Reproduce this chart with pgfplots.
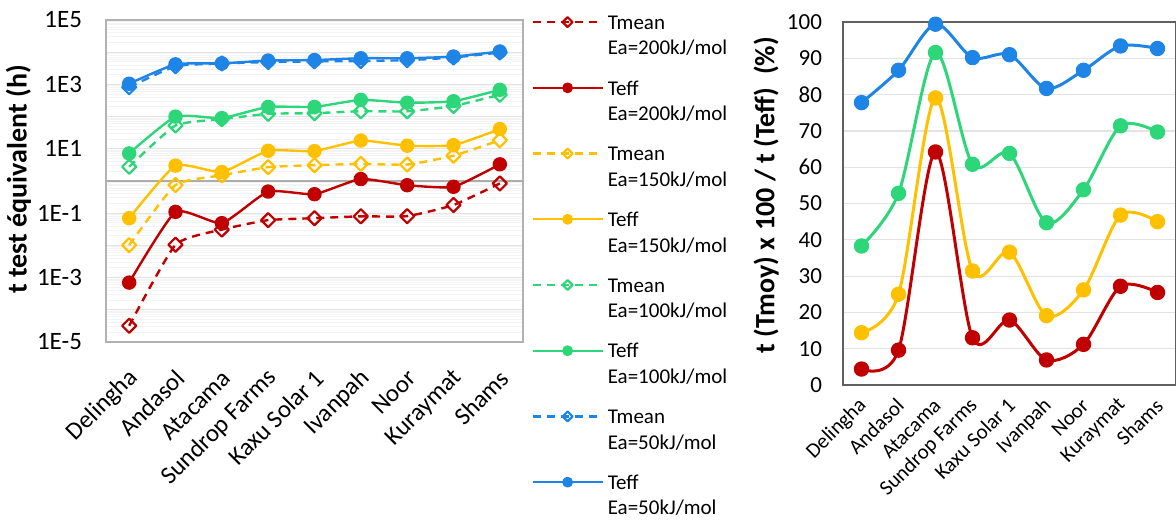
\documentclass[border=0pt]{standalone}
\usepackage{fontspec}
\setmainfont{Carlito}
\usepackage{pgfplots}
\pgfplotsset{compat=1.18}
\definecolor{cred}{RGB}{192,0,0}
\definecolor{cyel}{RGB}{255,192,0}
\definecolor{cgrn}{RGB}{46,214,122}
\definecolor{cblu}{RGB}{30,132,229}
\newcommand{\lt}[2]{\begin{tabular}[t]{@{}l@{}}#1\\Ea=#2kJ/mol\end{tabular}}
\begin{document}
\begin{tikzpicture}
\useasboundingbox (0pt,0pt) rectangle (588pt,260.5pt);
\begin{axis}[
  at={(53pt,89.5pt)}, anchor=south west, scale only axis,
  width=208.5pt, height=161pt,
  ymode=log, ymin=1e-5, ymax=1e5, xmin=-0.5, xmax=8.5,
  xtick={0,...,8},
  xticklabels={Delingha,Andasol,Atacama,Sundrop Farms,Kaxu Solar 1,Ivanpah,Noor,Kuraymat,Shams},
  xticklabel style={xshift=2.5pt, yshift=-16pt, rotate=45, anchor=east, inner sep=0pt, font=\fontsize{12.4}{14}\selectfont},
  ytick={1e-5,1e-4,1e-3,1e-2,1e-1,1,10,100,1000,10000,100000},
  yticklabels={1E-5,,1E-3,,1E-1,,1E1,,1E3,,1E5},
  yticklabel style={font=\fontsize{12.5}{14}\selectfont, xshift=-8.5pt},
  minor ytick={2e-5,3e-5,4e-5,5e-5,6e-5,7e-5,8e-5,9e-5,
    2e-4,3e-4,4e-4,5e-4,6e-4,7e-4,8e-4,9e-4,
    2e-3,3e-3,4e-3,5e-3,6e-3,7e-3,8e-3,9e-3,
    2e-2,3e-2,4e-2,5e-2,6e-2,7e-2,8e-2,9e-2,
    2e-1,3e-1,4e-1,5e-1,6e-1,7e-1,8e-1,9e-1,
    2,3,4,5,6,7,8,9,20,30,40,50,60,70,80,90,
    200,300,400,500,600,700,800,900,
    2000,3000,4000,5000,6000,7000,8000,9000,
    20000,30000,40000,50000,60000,70000,80000,90000},
  ymajorgrids, yminorgrids,
  major grid style={gray!22, line width=0.6pt},
  minor grid style={gray!9, line width=0.5pt},
  extra y ticks={1}, extra y tick labels={},
  extra y tick style={grid=major, major grid style={gray!65, line width=0.7pt}},
  major tick length=0pt, minor tick length=0pt,
  axis line style={gray!60, line width=0.7pt},
  ylabel={\bfseries t test équivalent (h)},
  ylabel style={at={(axis description cs:-0.21,0.505)}, anchor=center, font=\fontsize{14}{16}\selectfont},
  legend style={at={(axis description cs:1,1)}, anchor=north west, xshift=4pt, yshift=6.5pt,
    draw=none, fill=none, font=\fontsize{10.5}{12.8}\selectfont,
    cells={anchor=base west}, row sep=18.4pt, inner sep=0pt},
  legend image code/.code={%
    \draw[mark repeat=2,mark phase=2,#1,every mark/.append style={scale=0.7}]
      plot coordinates {(0pt,3.6pt)(17.5pt,3.6pt)(35pt,3.6pt)};},
  every axis plot/.append style={smooth, tension=0.3, line width=1.2pt, line join=round},
  tmean/.style={#1, dash pattern=on 4pt off 3pt, mark=square, mark size=2.5pt,
    mark options={solid, rotate=45, fill=white, line width=1.1pt}},
  teff/.style={#1, mark=*, mark size=3pt, mark options={solid, fill=#1}},
]
\addplot[tmean=cred] coordinates {(0,3.2e-5)(1,0.0105)(2,0.031)(3,0.061)(4,0.070)(5,0.080)(6,0.081)(7,0.18)(8,0.84)};
\addlegendentry{\lt{Tmean}{200}}
\addplot[teff=cred] coordinates {(0,0.0007)(1,0.11)(2,0.049)(3,0.47)(4,0.39)(5,1.15)(6,0.74)(7,0.66)(8,3.3)};
\addlegendentry{\lt{Teff}{200}}
\addplot[tmean=cyel] coordinates {(0,0.0102)(1,0.75)(2,1.5)(3,2.7)(4,3.1)(5,3.4)(6,3.25)(7,6.1)(8,18.5)};
\addlegendentry{\lt{Tmean}{150}}
\addplot[teff=cyel] coordinates {(0,0.07)(1,3.0)(2,1.9)(3,8.7)(4,8.5)(5,18)(6,12.5)(7,13)(8,41)};
\addlegendentry{\lt{Teff}{150}}
\addplot[tmean=cgrn] coordinates {(0,2.77)(1,53)(2,83)(3,122)(4,128)(5,147)(6,146)(7,214)(8,476)};
\addlegendentry{\lt{Tmean}{100}}
\addplot[teff=cgrn] coordinates {(0,7.2)(1,100)(2,90)(3,200)(4,200)(5,330)(6,270)(7,300)(8,680)};
\addlegendentry{\lt{Teff}{100}}
\addplot[tmean=cblu] coordinates {(0,820)(1,3650)(2,4480)(3,4950)(4,5190)(5,5330)(6,5650)(7,6860)(8,9770)};
\addlegendentry{\lt{Tmean}{50}}
\addplot[teff=cblu] coordinates {(0,1050)(1,4200)(2,4500)(3,5500)(4,5700)(5,6500)(6,6500)(7,7300)(8,10500)};
\addlegendentry{\lt{Teff}{50}}
\end{axis}

\begin{axis}[
  at={(421.5pt,68pt)}, anchor=south west, scale only axis,
  width=166.5pt, height=181.5pt,
  ymin=0, ymax=100, ytick={0,10,...,100}, xmin=-0.5, xmax=8.5,
  xtick={0,...,8},
  xticklabels={Delingha,Andasol,Atacama,Sundrop Farms,Kaxu Solar 1,Ivanpah,Noor,Kuraymat,Shams},
  xticklabel style={xshift=1pt, yshift=-8.5pt, rotate=45, anchor=east, inner sep=0pt, font=\fontsize{10.5}{12}\selectfont},
  yticklabel style={font=\fontsize{11.5}{13}\selectfont, xshift=-7pt},
  /pgf/number format/assume math mode=true,
  ymajorgrids, major grid style={gray!22, line width=0.6pt},
  major tick length=0pt,
  axis line style={gray!75!black, line width=0.7pt},
  ylabel={\bfseries t (Tmoy) x 100 / t (Teff)\ \ (\%)},
  ylabel style={at={(axis description cs:-0.231,0.523)}, anchor=center, font=\fontsize{14}{16}\selectfont},
  every axis plot/.append style={smooth, tension=0.5, line width=1.5pt, line join=round, mark=*, mark size=3.1pt},
]
\addplot[cblu, mark options={fill=cblu}] coordinates {(0,77.8)(1,86.7)(2,99.4)(3,90.2)(4,91.0)(5,81.7)(6,86.7)(7,93.4)(8,92.7)};
\addplot[cgrn, mark options={fill=cgrn}] coordinates {(0,38.3)(1,52.8)(2,91.6)(3,60.8)(4,63.8)(5,44.7)(6,53.8)(7,71.4)(8,69.7)};
\addplot[cyel, mark options={fill=cyel}] coordinates {(0,14.4)(1,25.0)(2,79.1)(3,31.4)(4,36.6)(5,19.1)(6,26.2)(7,46.8)(8,45.0)};
\addplot[cred, mark options={fill=cred}] coordinates {(0,4.4)(1,9.6)(2,64.2)(3,13.0)(4,17.9)(5,6.9)(6,11.2)(7,27.2)(8,25.5)};
\end{axis}
\end{tikzpicture}
\end{document}
